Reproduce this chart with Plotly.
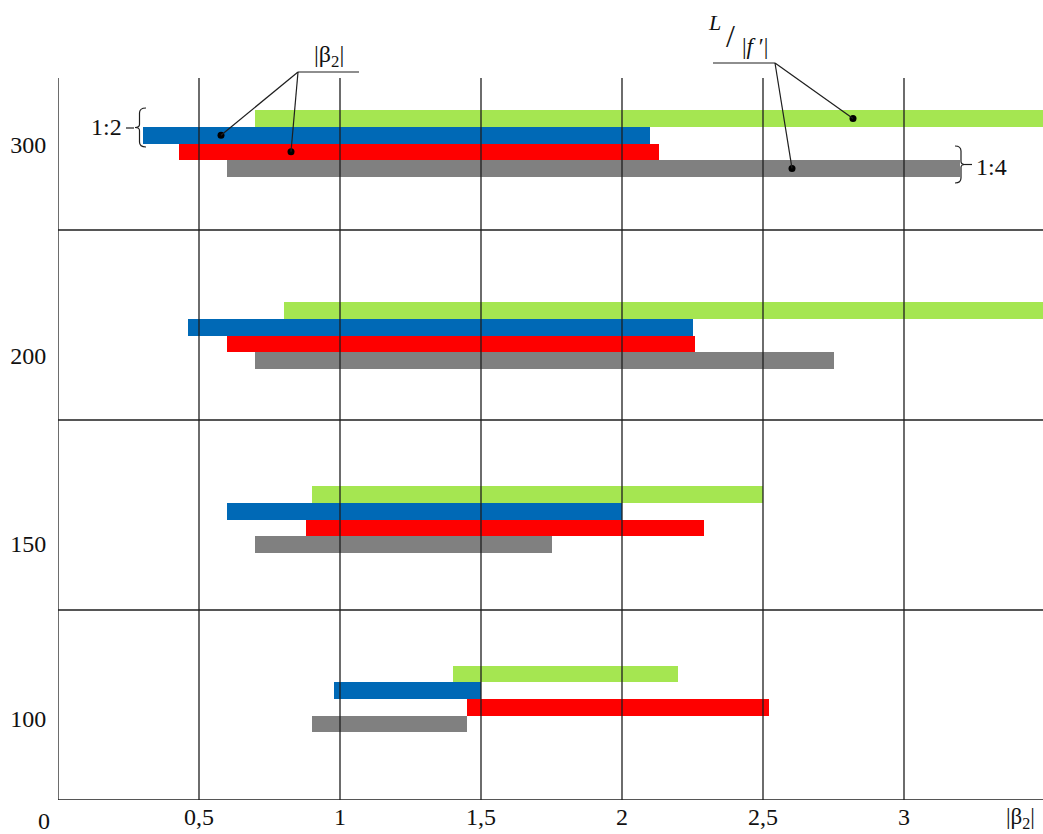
import plotly.graph_objects as go

# ---------------- data ----------------
groups = ["100", "150", "200", "300"]
group_label_pos = [0.43, 1.35, 2.34, 3.45]      # y position of the |f'| labels
group_base = [0.40, 1.345, 2.313, 3.324]         # centre of the lowest (grey) bar in each group

# intervals of |beta2| (start, end)
green_start = [1.40, 0.90, 0.80, 0.70]   # L/|f'|, 1:2
green_end   = [2.20, 2.50, 3.55, 3.55]
blue_start  = [0.98, 0.60, 0.46, 0.30]   # |beta2|, 1:2
blue_end    = [1.50, 2.00, 2.25, 2.10]
red_start   = [1.45, 0.88, 0.60, 0.43]   # |beta2|, 1:4
red_end     = [2.52, 2.29, 2.26, 2.13]
grey_start  = [0.90, 0.70, 0.70, 0.60]   # L/|f'|, 1:4
grey_end    = [1.45, 1.75, 2.75, 3.20]

x_ticks = [0.5, 1, 1.5, 2, 2.5, 3]
x_ticktext = ["0,5", "1", "1,5", "2", "2,5", "3"]
band_lines = [1, 2, 3]

series = [  # order from bottom to top inside a group
    ("grey",  grey_start,  grey_end,  "#808080"),
    ("red",   red_start,   red_end,   "#fe0000"),
    ("blue",  blue_start,  blue_end,  "#0069b6"),
    ("green", green_start, green_end, "#a5e651"),
]
BAR_STEP = 0.0875

# ---------------- geometry helpers (pixel -> data for decorations) ----------------
W, H = 1043, 834
ML, MB = 58, 34
XSCALE, YSCALE = 282.0, 190.0
def dx(p):
    return (p - ML) / XSCALE
def dy(p):
    return (H - MB - p) / YSCALE

XMAX = (W - ML) / XSCALE
YMAX = (H - MB) / YSCALE
GRID_TOP = dy(78)

FONT = "Liberation Serif, Times New Roman, serif"
LINE = "#1e1e1e"

fig = go.Figure()

centres = {}
for k, (name, s, e, col) in enumerate(series):
    ys = [b + k * BAR_STEP for b in group_base]
    centres[name] = ys
    fig.add_trace(go.Bar(
        orientation="h", y=ys, base=s, x=[b - a for a, b in zip(s, e)],
        width=BAR_STEP, marker=dict(color=col, line=dict(width=0)),
        showlegend=False, hoverinfo="skip"))

shapes = []
# vertical grid lines (above bars)
for t in [0] + x_ticks:
    shapes.append(dict(type="line", xref="x", yref="y", x0=t, x1=t, y0=0, y1=GRID_TOP,
                       line=dict(color=LINE, width=1.3), layer="above"))
# horizontal band separators
for b in band_lines:
    shapes.append(dict(type="line", xref="x", yref="y", x0=0, x1=XMAX, y0=b, y1=b,
                       line=dict(color=LINE, width=1.3), layer="above"))
# bottom axis
shapes.append(dict(type="line", xref="x", yref="y", x0=0, x1=XMAX, y0=0, y1=0,
                   line=dict(color=LINE, width=1.5), layer="above"))

def seg(x0p, y0p, x1p, y1p):
    shapes.append(dict(type="line", xref="x", yref="y", x0=dx(x0p), y0=dy(y0p),
                       x1=dx(x1p), y1=dy(y1p), line=dict(color=LINE, width=1.2), layer="above"))

def seg_to(x0p, y0p, pt):
    shapes.append(dict(type="line", xref="x", yref="y", x0=dx(x0p), y0=dy(y0p),
                       x1=pt[0], y1=pt[1], line=dict(color=LINE, width=1.2), layer="above"))

# |beta2| label leaders
seg(298, 72, 359, 72)
dot_blue = (dx(221), centres["blue"][3])
dot_red = (dx(291), centres["red"][3])
seg_to(298, 72, dot_blue)
seg_to(298, 72, dot_red)
# L/|f'| label leaders
seg(713, 63, 775, 63)
dot_green = (dx(853), centres["green"][3])
dot_grey = (dx(792), centres["grey"][3])
seg_to(775, 63, dot_green)
seg_to(775, 63, dot_grey)

# braces
def brace_path(xtip, xmid, xend, ytop, ybot):
    ym = (ytop + ybot) / 2
    pts = [
        f"M {dx(xend)},{dy(ytop)}",
        f"Q {dx(xmid)},{dy(ytop)} {dx(xmid)},{dy(ytop + 5)}",
        f"L {dx(xmid)},{dy(ym - 3)}",
        f"Q {dx(xmid)},{dy(ym)} {dx(xtip)},{dy(ym)}",
        f"Q {dx(xmid)},{dy(ym)} {dx(xmid)},{dy(ym + 3)}",
        f"L {dx(xmid)},{dy(ybot - 5)}",
        f"Q {dx(xmid)},{dy(ybot)} {dx(xend)},{dy(ybot)}",
    ]
    return " ".join(pts)

shapes.append(dict(type="path", xref="x", yref="y", path=brace_path(135, 139.5, 146, 108, 147),
                   line=dict(color=LINE, width=1.2), layer="above"))
seg(126, 128, 134, 128)
shapes.append(dict(type="path", xref="x", yref="y", path=brace_path(965, 961, 955, 146, 183),
                   line=dict(color=LINE, width=1.2), layer="above"))
seg(965, 164.5, 972, 164.5)

# dots
fig.add_trace(go.Scatter(
    x=[dot_blue[0], dot_red[0], dot_green[0], dot_grey[0]],
    y=[dot_blue[1], dot_red[1], dot_green[1], dot_grey[1]],
    mode="markers", marker=dict(color="black", size=7),
    showlegend=False, hoverinfo="skip", cliponaxis=False))

ann = []
def text(xp, yp, s, size=24, xanchor="center", yanchor="middle"):
    ann.append(dict(x=dx(xp), y=dy(yp), xref="x", yref="y", text=s, showarrow=False,
                    xanchor=xanchor, yanchor=yanchor,
                    font=dict(family=FONT, size=size, color="#111")))

def ptext(xp, yp, s, size=24, xanchor="center", yanchor="middle"):
    # paper coordinates are relative to the plotting area
    ann.append(dict(x=(xp - ML) / (W - ML), y=(H - MB - yp) / (H - MB),
                    xref="paper", yref="paper", text=s, showarrow=False,
                    xanchor=xanchor, yanchor=yanchor,
                    font=dict(family=FONT, size=size, color="#111")))

text(57, 54, "|<i>f</i> ′|")
text(329, 56, "|β<sub>2</sub>|")
text(106, 127, "1:2")
text(991, 167, "1:4")
text(714, 22, "<i>L</i>", size=22)
text(730, 36, "/", size=32)
text(755, 46, "|<i>f</i> ′|", size=23)

# corner labels below the axis
ptext(44, 821, "0")
ptext(1004, 818, "|β<sub>2</sub>|", size=23, xanchor="left")

fig.update_layout(
    width=W, height=H,
    margin=dict(l=ML, r=0, t=0, b=MB, autoexpand=False),
    paper_bgcolor="white", plot_bgcolor="white",
    barmode="overlay", bargap=0,
    shapes=shapes, annotations=ann,
    xaxis=dict(range=[0, XMAX], tickvals=x_ticks, ticktext=x_ticktext,
               showgrid=False, zeroline=False, showline=False, automargin=False,
               ticks="", ticklen=0,
               tickfont=dict(family=FONT, size=24, color="#111")),
    yaxis=dict(range=[0, YMAX], tickvals=group_label_pos, ticktext=groups,
               showgrid=False, zeroline=False, showline=False, automargin=False,
               ticks="outside", ticklen=6, tickcolor="rgba(0,0,0,0)",
               tickfont=dict(family=FONT, size=24, color="#111")),
)

fig.write_html("out.html", config={"displayModeBar": False},
               post_script="document.body.style.margin='0';document.body.style.overflow='hidden';")
